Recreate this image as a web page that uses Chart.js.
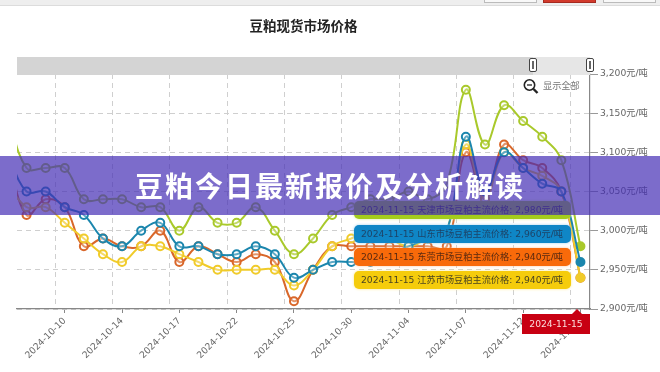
<!DOCTYPE html>
<html lang="zh"><head><meta charset="utf-8">
<script src="https://cdn.jsdelivr.net/npm/chart.js@4/dist/chart.umd.min.js"></script>
<style>
html,body{margin:0;padding:0;background:#fff}
#page{position:relative;width:660px;height:372px;overflow:hidden;font-family:"DejaVu Sans","Noto Sans CJK SC",sans-serif}
#soft{position:absolute;left:0;top:0;width:660px;height:372px;filter:blur(.45px)}
#soft div{position:absolute;box-sizing:border-box}
canvas{position:absolute;left:0;top:0}
.tag{left:354px;width:217px;border-radius:5px;font-size:9.2px;line-height:18px;padding-left:7px;white-space:nowrap;color:#333}
#banner{position:absolute;left:0;top:156px;width:660px;height:59px;background:rgba(68,45,181,.7);color:#fff;
 font:700 28px/59px "Noto Sans CJK SC",sans-serif;letter-spacing:2px;text-align:center;white-space:nowrap}
</style></head><body>
<div id="page">
 <div id="soft">
  <canvas id="c" width="660" height="372"></canvas>
  <div style="left:0;top:0;width:660px;height:6px;background:#eeeeee;border-bottom:1.5px solid #dcdcdc"></div>
  <div style="left:484px;top:0;width:53px;height:3px;background:#f8f8f8;border:1px solid #bbb;border-top:0"></div>
  <div style="left:543px;top:0;width:53px;height:3px;background:#d23a2c;border:1px solid #a52a20;border-top:0"></div>
  <div style="left:603px;top:0;width:53px;height:3px;background:#f8f8f8;border:1px solid #bbb;border-top:0"></div>
  <div style="left:17px;top:57px;width:516px;height:18px;background:#d4d4d4"></div>
  <div style="left:533px;top:57px;width:57px;height:18px;background:#e6e6e6"></div>
  <div style="left:529px;top:58px;width:8px;height:14px;background:#fff;border:1.3px solid #444;border-radius:2px"></div>
  <div style="left:532px;top:61px;width:2px;height:8px;background:#666"></div>
  <div style="left:586px;top:58px;width:8px;height:14px;background:#fff;border:1.3px solid #444;border-radius:2px"></div>
  <div style="left:589px;top:61px;width:2px;height:8px;background:#666"></div>
  <svg style="position:absolute;left:522px;top:78px" width="18" height="16" viewBox="0 0 18 16">
   <circle cx="7.5" cy="7" r="5.2" fill="none" stroke="#222" stroke-width="1.6"/>
   <path d="M5 7h5" stroke="#222" stroke-width="1.3"/><path d="M11.5 11l4 4" stroke="#222" stroke-width="2.4"/></svg>
  <div style="left:543px;top:80px;font-size:9.2px;line-height:12px;color:#777;white-space:nowrap">显示全部</div>
  <div class="tag" style="top:201px;height:18px;background:#a4cc1c;box-shadow:0 0 3px #d5e88a" id="t0"></div>
  <div class="tag" style="top:225px;height:18px;background:#0f86c6;box-shadow:0 0 3px #9fd0ea;color:#1d4468" id="t1"></div>
  <div class="tag" style="top:248px;height:18px;background:#f86a0a;box-shadow:0 0 3px #fbc49c;color:#5a2a10" id="t2"></div>
  <div class="tag" style="top:271px;height:18px;background:#f5cc0c;box-shadow:0 0 3px #f9e88e;color:#4a4420" id="t3"></div>
  <div style="left:522px;top:314px;width:68px;height:20px;background:#c80012;color:#fbdcdc;font-size:9.2px;line-height:20px;text-align:center" id="flag"></div>
  <div style="left:572px;top:309px;width:0;height:0;border:5px solid transparent;border-top:0;border-bottom:5px solid #c80012"></div>
 </div>
 <div id="banner">豆粕今日最新报价及分析解读</div>
</div>
<script>
const chartTitle = '豆粕现货市场价格';
const categories = ['2024-09-30','2024-10-08','2024-10-09','2024-10-10','2024-10-11','2024-10-12','2024-10-14','2024-10-15','2024-10-16','2024-10-17','2024-10-18','2024-10-21','2024-10-22','2024-10-23','2024-10-24','2024-10-25','2024-10-28','2024-10-29','2024-10-30','2024-10-31','2024-11-01','2024-11-04','2024-11-05','2024-11-06','2024-11-07','2024-11-08','2024-11-11','2024-11-12','2024-11-13','2024-11-14','2024-11-15'];
const tianjin  = [3150,3080,3080,3080,3040,3040,3040,3030,3030,3000,3030,3010,3010,3030,3000,2970,2990,3020,3030,3040,3040,3050,3040,3060,3180,3110,3160,3140,3120,3090,2980];
const shandong = [3100,3050,3050,3030,3020,2990,2980,3000,3010,2980,2980,2970,2970,2980,2970,2940,2950,2960,2960,2960,2970,2980,2990,3000,3120,3050,3100,3080,3060,3050,2960];
const dongguan = [3100,3020,3040,3030,2980,2990,2980,2980,3000,2960,2980,2970,2960,2970,2960,2910,2950,2980,2980,2980,2980,2980,2980,2980,3100,3040,3110,3090,3080,3050,2940];
const jiangsu  = [3060,3030,3030,3010,2990,2970,2960,2980,2980,2970,2960,2950,2950,2950,2950,2930,2950,2980,2990,3000,2990,2980,2990,3000,3110,3040,3100,3080,3070,3050,2940];
const seriesNames = ['天津','山东','东莞','江苏'];
const seriesValues = [tianjin, shandong, dongguan, jiangsu];
const seriesColors = ['#a9c92b','#1b86ad','#d9672a','#f0cb2a'];
const yTicks = [2900,2950,3000,3050,3100,3150,3200];
const lastLabel = categories[categories.length-1];
const fmt = v => v.toLocaleString('en-US');

seriesNames.forEach((n,i)=>{
  const v = seriesValues[i][seriesValues[i].length-1];
  document.getElementById('t'+i).textContent = `${lastLabel} ${n}市场豆粕主流价格: ${fmt(v)}元/吨`;
});
document.getElementById('flag').textContent = lastLabel;

// blue on top, then yellow, orange, green at the bottom
const drawOrder = [1,3,2,0];
const datasets = drawOrder.map(i=>({
  label: seriesNames[i], data: seriesValues[i], borderColor: seriesColors[i],
  borderWidth: 2, tension: .4, pointRadius: 4, pointBorderWidth: 2, pointBorderColor: seriesColors[i],
  pointBackgroundColor: c => c.dataIndex===categories.length-1 ? seriesColors[i] : 'rgba(255,255,255,.3)'
}));
const font = {family:'"DejaVu Sans","Noto Sans CJK SC",sans-serif',size:9.2};
new Chart(document.getElementById('c'),{
  type:'line',
  data:{labels:categories,datasets},
  options:{
    responsive:false,animation:false,devicePixelRatio:1,
    layout:{padding:{left:17,right:0,top:0,bottom:0}},
    plugins:{legend:{display:false},tooltip:{enabled:false},
      title:{display:true,text:chartTitle,fullSize:false,color:'#222',
        font:{family:'"Noto Sans CJK SC",sans-serif',size:13.5,weight:'600',lineHeight:1.2},
        padding:{top:18,bottom:39.8}}},
    scales:{
      x:{type:'category',position:'bottom',min:categories[1],max:lastLabel,offset:true,
        afterBuildTicks:s=>{s.ticks=s.ticks.filter(t=>t.value%3===0)},
        afterFit:s=>{s.height=63},
        border:{color:'#888',width:1.2},
        grid:{drawOnChartArea:false,drawTicks:true,tickLength:4,tickColor:'#888'},
        ticks:{autoSkip:false,minRotation:45,maxRotation:45,color:'#666',font,padding:2.5}},
      xGrid:{type:'linear',position:'bottom',min:0,max:30,
        afterBuildTicks:s=>{s.ticks=s.ticks.length?[2,5,8,11,14,17,20,23,26,29].map(value=>({value})):[]},
        afterFit:s=>{s.height=0},
        border:{display:false,dash:[5,4]},
        grid:{color:'#cfcfcf',lineWidth:1,drawTicks:false},
        ticks:{display:false}},
      y:{position:'right',min:2900,max:3200,
        afterBuildTicks:s=>{s.ticks=yTicks.map(value=>({value}))},
        afterFit:s=>{s.width=70},
        border:{color:'#888',width:1.2,dash:[5,4]},
        grid:{color:'#cfcfcf',lineWidth:1,tickLength:8,tickColor:'#999',tickBorderDash:[]},
        ticks:{color:'#666',font,padding:2,callback:v=>fmt(v)+'元/吨'}}
    }
  }
});
</script>
</body></html>
